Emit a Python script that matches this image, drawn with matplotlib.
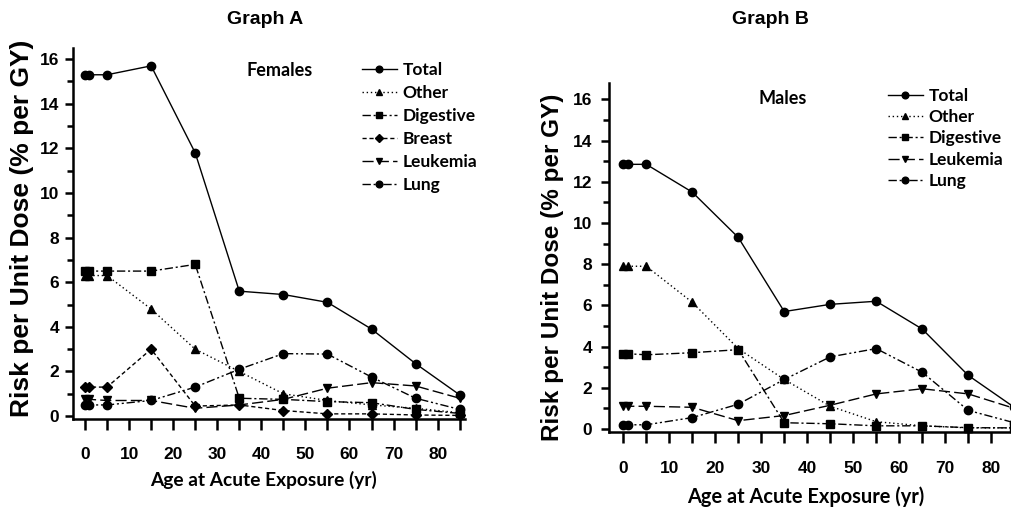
import matplotlib
matplotlib.use("Agg")
import matplotlib.pyplot as plt
from matplotlib.ticker import MultipleLocator

# ---------------- data ----------------
ages = [0, 1, 5, 15, 25, 35, 45, 55, 65, 75, 85]
x_ticks = [0, 10, 20, 30, 40, 50, 60, 70, 80]
y_ticks = [0, 2, 4, 6, 8, 10, 12, 14, 16]

# Graph A - Females
f_total     = [15.3, 15.3, 15.3, 15.7, 11.8, 5.6, 5.45, 5.1, 3.9, 2.35, 0.95]
f_other     = [6.3, 6.3, 6.3, 4.8, 3.0, 2.0, 1.0, 0.7, 0.5, 0.35, 0.15]
f_digestive = [6.5, 6.5, 6.5, 6.5, 6.8, 0.8, 0.75, 0.65, 0.6, 0.3, 0.12]
f_breast    = [1.3, 1.3, 1.3, 3.0, 0.45, 0.5, 0.25, 0.1, 0.1, 0.05, 0.03]
f_leukemia  = [0.75, 0.75, 0.7, 0.7, 0.35, 0.5, 0.75, 1.25, 1.5, 1.35, 0.8]
f_lung      = [0.5, 0.5, 0.5, 0.7, 1.3, 2.1, 2.8, 2.78, 1.75, 0.8, 0.3]

# Graph B - Males
m_total     = [12.85, 12.85, 12.85, 11.5, 9.3, 5.7, 6.05, 6.2, 4.85, 2.6, 1.05]
m_other     = [7.9, 7.9, 7.9, 6.15, 3.9, 2.4, 1.1, 0.35, 0.15, 0.05, 0.05]
m_digestive = [3.65, 3.65, 3.6, 3.7, 3.85, 0.3, 0.25, 0.15, 0.15, 0.06, 0.05]
m_leukemia  = [1.1, 1.1, 1.1, 1.05, 0.4, 0.65, 1.15, 1.7, 1.95, 1.7, 1.0]
m_lung      = [0.2, 0.2, 0.2, 0.55, 1.2, 2.4, 3.5, 3.9, 2.75, 0.9, 0.3]

# ---------------- styles ----------------
W, H = 1011, 508
fig = plt.figure(figsize=(W / 100, H / 100), dpi=100)

NUM_FONT = ["Liberation Sans", "DejaVu Sans"]
GILL_FONT = ["Lato", "DejaVu Sans"]
ARIAL = ["Liberation Sans", "DejaVu Sans"]

styles = {
    "Total":     dict(ls="-", marker="o", ms=6),
    "Other":     dict(ls=(0, (1, 2)), marker="^", ms=6),
    "Digestive": dict(ls=(0, (6, 2, 1.5, 2)), marker="s", ms=6),
    "Breast":    dict(ls=(0, (3, 2)), marker="D", ms=5),
    "Leukemia":  dict(ls=(0, (8, 3)), marker="v", ms=6),
    "Lung":      dict(ls=(0, (6, 2, 1.5, 2, 1.5, 2)), marker="o", ms=6),
}


def setup(ax, xlim, ylim, xpad, ypad):
    ax.set_xlim(*xlim)
    ax.set_ylim(*ylim)
    for s in ("top", "right"):
        ax.spines[s].set_visible(False)
    for s in ("left", "bottom"):
        ax.spines[s].set_linewidth(1.8)
    ax.set_xticks(x_ticks)
    ax.set_yticks(y_ticks)
    ax.xaxis.set_minor_locator(MultipleLocator(5))
    ax.yaxis.set_minor_locator(MultipleLocator(1))
    ax.tick_params(axis="x", which="both", direction="out", length=8, width=1.8, pad=xpad)
    ax.tick_params(axis="y", which="major", direction="out", length=6, width=1.8, pad=ypad)
    ax.tick_params(axis="y", which="minor", direction="out", length=4, width=1.8)
    for lab in ax.get_xticklabels() + ax.get_yticklabels():
        lab.set_fontfamily(NUM_FONT)
        lab.set_fontweight("bold")
        lab.set_fontsize(12.5)
    ax.patch.set_alpha(0)


def draw(ax, series):
    handles = []
    for name, vals in series:
        st = styles[name]
        h, = ax.plot(ages, vals, color="black", lw=1.0, ls=st["ls"],
                     marker=st["marker"], ms=st["ms"], mfc="black", mec="black",
                     clip_on=False, label=name)
        handles.append(h)
    return handles


# ---------------- Graph A ----------------
axA = fig.add_axes([73 / W, (H - 419) / H, (465 - 73) / W, (419 - 48) / H])
setup(axA, (-2.72, 86.2), (-0.13, 16.5), xpad=12, ypad=4)
hA = draw(axA, [("Total", f_total), ("Other", f_other), ("Digestive", f_digestive),
                ("Breast", f_breast), ("Leukemia", f_leukemia), ("Lung", f_lung)])
legA = axA.legend(handles=hA, loc="upper left", bbox_to_anchor=(362 / W, 1 - 62 / H),
                  bbox_transform=fig.transFigure, frameon=False, borderpad=0,
                  handlelength=2.0, handletextpad=0.35, labelspacing=0.4,
                  prop=dict(family=GILL_FONT, weight="bold", size=12.5), borderaxespad=0,
                  markerscale=0.8)
fig.text(280 / W, 1 - 70 / H, "Females", family=GILL_FONT, weight="bold", size=13,
         ha="center", va="center")

# ---------------- Graph B ----------------
axB = fig.add_axes([609 / W, (H - 432) / H, (1011 - 609) / W, (432 - 83) / H])
setup(axB, (-3.1, 84.3), (-0.15, 16.8), xpad=13, ypad=6)
hB = draw(axB, [("Total", m_total), ("Other", m_other), ("Digestive", m_digestive),
                ("Leukemia", m_leukemia), ("Lung", m_lung)])
legB = axB.legend(handles=hB, loc="upper left", bbox_to_anchor=(888 / W, 1 - 88 / H),
                  bbox_transform=fig.transFigure, frameon=False, borderpad=0,
                  handlelength=2.0, handletextpad=0.35, labelspacing=0.3,
                  prop=dict(family=GILL_FONT, weight="bold", size=12.5), borderaxespad=0,
                  markerscale=0.8)
fig.text(783 / W, 1 - 98 / H, "Males", family=GILL_FONT, weight="bold", size=13,
         ha="center", va="center")

# ---------------- titles & labels ----------------
fig.text(265 / W, 1 - 20 / H, "Graph A", family=ARIAL, weight="bold", size=14,
         ha="center", va="center")
fig.text(770 / W, 1 - 20 / H, "Graph B", family=ARIAL, weight="bold", size=14,
         ha="center", va="center")

fig.text(22 / W, 1 - 228 / H, "Risk per Unit Dose (% per GY)", family=ARIAL,
         weight="bold", size=19, rotation=90, ha="center", va="center")
fig.text(552 / W, 1 - 267 / H, "Risk per Unit Dose (% per GY)", family=ARIAL,
         weight="bold", size=17.5, rotation=90, ha="center", va="center")

fig.text(263 / W, 1 - 480 / H, "Age at Acute Exposure (yr)", family=GILL_FONT,
         weight="bold", size=13.8, ha="center", va="center")
fig.text(806 / W, 1 - 497 / H, "Age at Acute Exposure (yr)", family=GILL_FONT,
         weight="bold", size=14.4, ha="center", va="center")

fig.savefig("out.png", dpi=100)
